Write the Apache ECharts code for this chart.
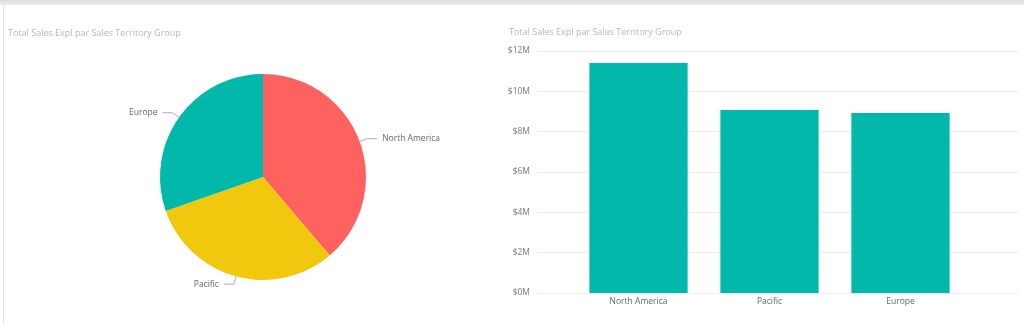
<!DOCTYPE html>
<html>
<head>
<meta charset="utf-8">
<script src="https://cdn.jsdelivr.net/npm/echarts@6/dist/echarts.min.js"></script>
<style>
html,body{margin:0;padding:0;background:#fff;}
#wrap{position:relative;width:1024px;height:324px;overflow:hidden;}
#topband{position:absolute;left:0;top:0;width:1024px;height:5px;background:linear-gradient(#dcdcdc,#ececec);}
#leftline{position:absolute;left:3px;top:5px;width:1px;height:319px;background:#e4e4e4;}
#chart{position:absolute;left:0;top:0;width:1024px;height:324px;}
</style>
</head>
<body>
<div id="wrap">
<div id="chart"></div>
<div id="topband"></div>
<div id="leftline"></div>
</div>
<script>
const titleText = 'Total Sales Expl par Sales Territory Group';
const categories = ['North America', 'Pacific', 'Europe'];
const salesValues = [11400000, 9070000, 8920000];
const sliceColors = ['#FD625E', '#F2C80F', '#01B8AA'];
const barColor = '#01B8AA';
const yMin = 0;
const yMax = 12000000;
const yInterval = 2000000;

const FONT = '"Open Sans", "Noto Sans", sans-serif';
const chart = echarts.init(document.getElementById('chart'), null, {renderer: 'canvas'});

const pieData = categories.map((c, i) => ({name: c, value: salesValues[i], itemStyle: {color: sliceColors[i]}}));

chart.setOption({
  animation: false,
  textStyle: {fontFamily: FONT},
  title: [
    {text: titleText, left: 8, top: 29, padding: 0, textStyle: {fontSize: 9, fontWeight: 'normal', color: '#b8b8b8', fontFamily: FONT}},
    {text: titleText, left: 509, top: 28, padding: 0, textStyle: {fontSize: 9, fontWeight: 'normal', color: '#b8b8b8', fontFamily: FONT}}
  ],
  grid: [
    {left: 537, right: 5, top: 51, bottom: 31},
    {left: 573, right: 58, top: 51, bottom: 31}
  ],
  xAxis: [
    {gridIndex: 0, type: 'category', data: categories, show: false},
    {gridIndex: 1, type: 'category', data: categories,
      axisLine: {show: false}, axisTick: {show: false},
      axisLabel: {color: '#666', fontSize: 8.5, margin: 4, fontFamily: FONT}}
  ],
  yAxis: [
    {gridIndex: 0, type: 'value', min: yMin, max: yMax, interval: yInterval,
      axisLine: {show: false}, axisTick: {show: false},
      axisLabel: {color: '#777', fontSize: 8.5, margin: 7, fontFamily: FONT,
        formatter: v => '$' + (v / 1000000) + 'M'},
      splitLine: {lineStyle: {color: '#eeeeee', width: 1}}},
    {gridIndex: 1, type: 'value', min: yMin, max: yMax, interval: yInterval, show: false, splitLine: {show: false}}
  ],
  series: [
    {
      type: 'pie',
      center: [263, 177],
      radius: 103,
      startAngle: 90,
      clockwise: true,
      data: pieData,
      label: {show: true, position: 'outside', color: '#666', fontSize: 8.5, fontFamily: FONT, formatter: '{b}'},
      labelLine: {show: true, length: 8, length2: 10, lineStyle: {color: '#aaa', width: 1}},
      itemStyle: {borderWidth: 0},
      emphasis: {disabled: true}
    },
    {
      type: 'bar',
      xAxisIndex: 1,
      yAxisIndex: 1,
      data: salesValues,
      barCategoryGap: '25%',
      itemStyle: {color: barColor},
      emphasis: {disabled: true}
    }
  ]
});
</script>
</body>
</html>
